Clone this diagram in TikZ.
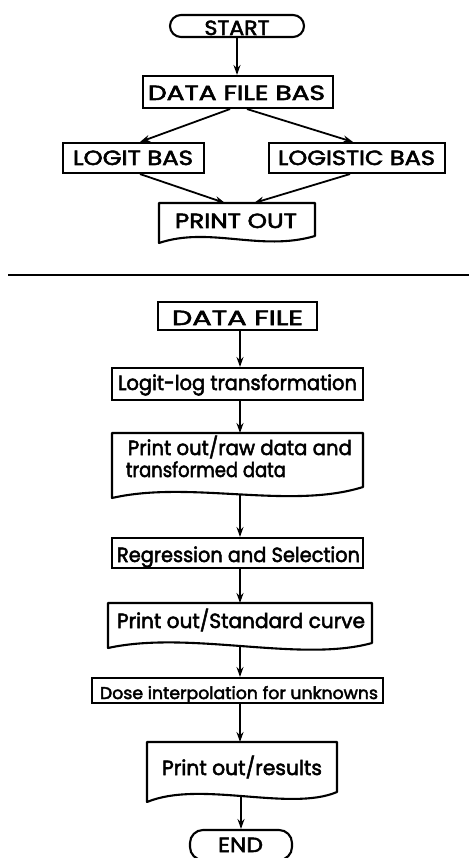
\documentclass[tikz,border=0pt]{standalone}
\usepackage{fontspec}
\setmainfont{DejaVu Sans}
\newfontfamily\chartfont{Poppins}[FakeBold=2.5]
\usetikzlibrary{arrows.meta}
\newcommand\fitw[2]{\resizebox{#1pt}{\height}{#2}}
\tikzset{
  box/.style={draw, rectangle, inner sep=0pt, line width=2.1pt},
  term/.style={draw, rectangle, rounded corners=11pt, inner sep=0pt, line width=2.1pt},
  ghost/.style={rectangle, inner sep=0pt},
  lbl/.style={anchor=base, inner sep=0pt, font=\chartfont\fontsize{20.5}{24}\selectfont},
  lblw/.style={anchor=base west, inner sep=0pt, font=\chartfont\fontsize{20.5}{24}\selectfont},
  lbls/.style={anchor=base, inner sep=0pt, font=\chartfont\fontsize{17}{20}\selectfont},
  arr/.style={-{Stealth[length=10pt,width=7pt]}, line width=1.8pt},
  doc/.style={line width=2.1pt, line join=round}
}
\begin{document}
\begin{tikzpicture}[x=1pt, y=-1pt, line width=1.8pt]
\useasboundingbox (0,0) rectangle (469,858);

% ---------- upper chart ----------
\node[term, minimum width=134pt, minimum height=22pt] (start) at (237,26) {};
\node[lbl] (tstart) at (237,35) {\fitw{65}{START}};

\node[box, minimum width=190pt, minimum height=32pt] (dfb) at (238,92) {};
\node[lbl] (tdfb) at (236.5,100) {\fitw{177}{DATA FILE BAS}};

\node[box, minimum width=141pt, minimum height=30pt] (logit) at (133.5,158) {};
\node[lbl] (tlogit) at (133,165) {\fitw{120}{LOGIT BAS}};

\node[box, minimum width=176pt, minimum height=30pt] (logistic) at (357,158) {};
\node[lbl] (tlogistic) at (356.5,165) {\fitw{157}{LOGISTIC BAS}};

\draw[doc] (159,203) -- (315,203) -- (315,236) .. controls (260,252) and (210,226) .. (159,243) -- cycle;
\node[ghost, minimum width=156pt, minimum height=30pt, anchor=north] (pout) at (237,203) {};
\node[lbl] (tpout) at (236,228) {\fitw{122}{PRINT OUT}};

\draw[arr] (start.south) -- (start.south |- dfb.north);
\draw[arr] ([xshift=-8pt]dfb.south) -- ([xshift=6.5pt]logit.north);
\draw[arr] ([xshift=9pt]dfb.south) -- ([xshift=-4pt]logistic.north);
\draw[arr] ([xshift=6.5pt]logit.south) -- ([xshift=-12pt]pout.north);
\draw[arr] ([xshift=-7pt]logistic.south) -- ([xshift=17pt]pout.north);

% separator
\draw[line width=2.2pt] (8,275) -- (469,275);

% ---------- lower chart ----------
\node[box, minimum width=159pt, minimum height=28pt] (df) at (237.5,316) {};
\node[lbl] (tdf) at (237.5,325) {\fitw{131}{DATA FILE}};

\node[box, minimum width=251pt, minimum height=32pt] (ll) at (237.5,384) {};
\node[lbl] (tll) at (237.5,390) {\fitw{239}{Logit-log transformation}};

\draw[doc] (112,433) -- (363,433) -- (363,487) .. controls (290,510) and (190,480) .. (112,498) -- cycle;
\node[ghost, minimum width=251pt, minimum height=50pt, anchor=north] (p1) at (237.5,433) {};
\coordinate (p1b) at (240,494.4);
\node[lblw] (tp1a) at (127,455) {\fitw{224}{Print out/raw data and}};
\node[lblw] (tp1b) at (125,477) {\fitw{160}{transformed data}};

\node[box, minimum width=251pt, minimum height=30pt] (regr) at (237.5,553) {};
\node[lbl] (tregr) at (238.5,562) {\fitw{243}{Regression and Selection}};

\draw[doc] (108,603) -- (372,603) -- (372,643) .. controls (300,663) and (190,630) .. (108,648) -- cycle;
\node[ghost, minimum width=264pt, minimum height=38pt, anchor=north] (p2) at (240,603) {};
\coordinate (p2b) at (240,646.5);
\node[lbl] (tp2) at (241,628) {\fitw{248}{Print out/Standard curve}};

\node[box, minimum width=291pt, minimum height=25pt] (dose) at (237.5,690.5) {};
\node[lbls] (tdose) at (239,699) {\fitw{278}{Dose interpolation for unknowns}};

\draw[doc] (147,742) -- (337,742) -- (337,792) .. controls (290,812) and (200,780) .. (147,802) -- cycle;
\node[ghost, minimum width=190pt, minimum height=48pt, anchor=north] (p3) at (242,742) {};
\coordinate (p3b) at (241,796.5);
\node[lbl] (tp3) at (242,775) {\fitw{160}{Print out/results}};

\node[term, minimum width=102pt, minimum height=30pt, rounded corners=13pt] (end) at (241,845) {};
\node[lbl] (tend) at (240.5,852) {\fitw{45}{END}};

\draw[arr] ([xshift=2.5pt]df.south) -- ([xshift=2.5pt]ll.north);
\draw[arr] ([xshift=2.5pt]ll.south) -- ([xshift=2.5pt]p1.north);
\draw[arr] (p1b) -- (p1b |- regr.north);
\draw[arr] ([xshift=2.5pt]regr.south) -- ([xshift=2.5pt]regr.south |- p2.north);
\draw[arr] (p2b) -- (p2b |- dose.north);
\draw[arr] ([xshift=2.5pt]dose.south) -- ([xshift=2.5pt]dose.south |- p3.north);
\draw[arr] (p3b) -- (p3b |- end.north);
\end{tikzpicture}
\end{document}
